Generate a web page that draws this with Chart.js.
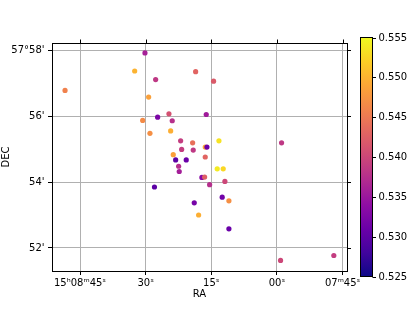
<!DOCTYPE html>
<html lang="en">
<head>
    <meta charset="UTF-8">
    <title>RA / DEC</title>
    <script src="https://cdn.jsdelivr.net/npm/chart.js"></script>
    <style>
        html, body { margin: 0; padding: 0; background: #fff; }
    </style>
</head>
<body>
    <canvas id="grafico" width="415" height="311"></canvas>

    <script>
        // RA em segundos depois de 15h08m00s, DEC em arcmin depois de 57°00'
        const ra = [30.16, 32.51, 27.72, 48.42, 29.32, 24.68, 27.26, 30.68, 23.93, 24.29,
            29.02, 22.01, 19.27, 21.78, 19.13, 23.70, 23.15, 20.73, 22.47, 22.33,
            18.58, 14.48, 16.16, 13.26, 16.39, 16.00, -1.05, 16.39, 13.65, 12.28,
            17.15, 16.53, 27.99, 15.39, 11.90, 12.51, 10.98, 18.90, 17.90, 10.98,
            -0.82, -12.99];
        const dec = [57.92, 57.37, 57.11, 56.78, 56.58, 56.07, 55.97, 55.87, 55.86, 55.55,
            55.48, 55.25, 55.19, 54.99, 54.97, 54.83, 54.67, 54.67, 54.48, 54.32,
            57.35, 57.06, 56.05, 55.25, 55.06, 55.06, 55.19, 54.76, 54.40, 54.40,
            54.14, 54.15, 53.85, 53.92, 54.02, 53.54, 53.43, 53.37, 53.00, 52.58,
            51.62, 51.77];
        const valor = [0.5360, 0.5500, 0.5385, 0.5457, 0.5485, 0.5410, 0.5325, 0.5466, 0.5376, 0.5496,
            0.5470, 0.5390, 0.5440, 0.5390, 0.5385, 0.5485, 0.5300, 0.5310, 0.5375, 0.5358,
            0.5430, 0.5420, 0.5355, 0.5535, 0.5490, 0.5310, 0.5385, 0.5430, 0.5540, 0.5526,
            0.5334, 0.5425, 0.5300, 0.5375, 0.5400, 0.5316, 0.5470, 0.5320, 0.5496, 0.5310,
            0.5400, 0.5390];

        const raTicks = [45, 30, 15, 0, -15];
        const raLabels = ['15ʰ08ᵐ45ˢ', '30ˢ', '15ˢ', '00ˢ', '07ᵐ45ˢ'];
        const decTicks = [52, 54, 56, 58];
        const decLabels = ["52'", "54'", "56'", "57°58'"];
        const cbTicks = [0.525, 0.530, 0.535, 0.540, 0.545, 0.550, 0.555];
        const cbMin = 0.525;
        const cbMax = 0.555;

        // plasma
        const plasma = [[13, 8, 135], [65, 4, 157], [106, 0, 168], [143, 13, 164], [177, 42, 144],
            [204, 71, 120], [225, 100, 98], [242, 132, 75], [252, 166, 54], [252, 206, 37], [240, 249, 33]];

        function corPlasma(t) {
            t = Math.min(1, Math.max(0, t)) * 10;
            const i = Math.min(9, Math.floor(t));
            const f = t - i;
            const a = plasma[i], b = plasma[i + 1];
            const c = [0, 1, 2].map(k => Math.round(a[k] + (b[k] - a[k]) * f));
            return `rgb(${c[0]},${c[1]},${c[2]})`;
        }

        const pontos = ra.map((x, i) => ({ x: x, y: dec[i] }));
        const cores = valor.map(v => corPlasma((v - cbMin) / (cbMax - cbMin)));

        Chart.defaults.font.family = "'DejaVu Sans', sans-serif";
        Chart.defaults.font.size = 10;
        Chart.defaults.color = '#000';

        // moldura, ticks de cima/direita e colorbar
        const extras = {
            id: 'extras',
            afterDraw(chart) {
                const ctx = chart.ctx;
                const a = chart.chartArea;
                const sx = chart.scales.x, sy = chart.scales.y;
                ctx.save();
                ctx.strokeStyle = '#000';
                ctx.lineWidth = 1;
                ctx.strokeRect(a.left + 0.5, a.top + 0.5, a.right - a.left, a.bottom - a.top);
                ctx.beginPath();
                raTicks.forEach(v => {
                    const px = Math.round(sx.getPixelForValue(v)) + 0.5;
                    ctx.moveTo(px, a.top);
                    ctx.lineTo(px, a.top - 3.5);
                });
                decTicks.forEach(v => {
                    const py = Math.round(sy.getPixelForValue(v)) + 0.5;
                    ctx.moveTo(a.right, py);
                    ctx.lineTo(a.right + 4, py);
                });
                ctx.stroke();

                // colorbar
                const cx = 360.5, cw = 12, ct = 37.5, cb = 276.5;
                const grad = ctx.createLinearGradient(0, cb, 0, ct);
                for (let k = 0; k <= 20; k++) {
                    grad.addColorStop(k / 20, corPlasma(k / 20));
                }
                ctx.fillStyle = grad;
                ctx.fillRect(cx, ct, cw, cb - ct);
                ctx.strokeRect(cx, ct, cw, cb - ct);
                ctx.fillStyle = '#000';
                ctx.font = "10px 'DejaVu Sans'";
                ctx.textAlign = 'left';
                ctx.textBaseline = 'middle';
                ctx.beginPath();
                cbTicks.forEach(v => {
                    const py = Math.round(cb - (v - cbMin) / (cbMax - cbMin) * (cb - ct)) + 0.5;
                    ctx.moveTo(cx + cw, py);
                    ctx.lineTo(cx + cw + 3.5, py);
                    ctx.fillText(v.toFixed(3), cx + cw + 6, py);
                });
                ctx.stroke();
                ctx.restore();
            }
        };

        const config = {
            type: 'scatter',
            data: {
                datasets: [{
                    data: pontos,
                    backgroundColor: cores,
                    borderWidth: 0,
                    pointRadius: 2.6,
                    pointHoverRadius: 2.6
                }]
            },
            options: {
                responsive: false,
                animation: false,
                layout: { padding: { top: 43, right: 68, left: 0, bottom: 0 } },
                plugins: {
                    legend: { display: false },
                    tooltip: { enabled: false }
                },
                scales: {
                    x: {
                        type: 'linear',
                        reverse: true,
                        min: -16.0,
                        max: 51.4,
                        afterBuildTicks: s => { s.ticks = raTicks.map(v => ({ value: v })); },
                        afterFit: s => { s.height = 40; },
                        ticks: {
                            autoSkip: false,
                            maxRotation: 0,
                            padding: 2,
                            color: '#000',
                            callback: v => raLabels[raTicks.indexOf(v)]
                        },
                        grid: { color: '#b0b0b0', tickColor: '#000', tickLength: 4, lineWidth: 1 },
                        border: { display: true, color: '#000' },
                        title: { display: true, text: 'RA', color: '#000', padding: { top: 0, bottom: 11 } }
                    },
                    y: {
                        type: 'linear',
                        min: 51.30,
                        max: 58.22,
                        afterBuildTicks: s => { s.ticks = decTicks.map(v => ({ value: v })); },
                        afterFit: s => { s.width = 52; },
                        ticks: {
                            autoSkip: false,
                            padding: 3.5,
                            color: '#000',
                            callback: v => decLabels[decTicks.indexOf(v)]
                        },
                        grid: { color: '#b0b0b0', tickColor: '#000', tickLength: 4, lineWidth: 1 },
                        border: { display: true, color: '#000' },
                        title: { display: true, text: 'DEC', color: '#000', padding: { top: 0, bottom: 0 } }
                    }
                }
            },
            plugins: [extras]
        };

        new Chart(document.getElementById('grafico'), config);
    </script>
</body>
</html>
